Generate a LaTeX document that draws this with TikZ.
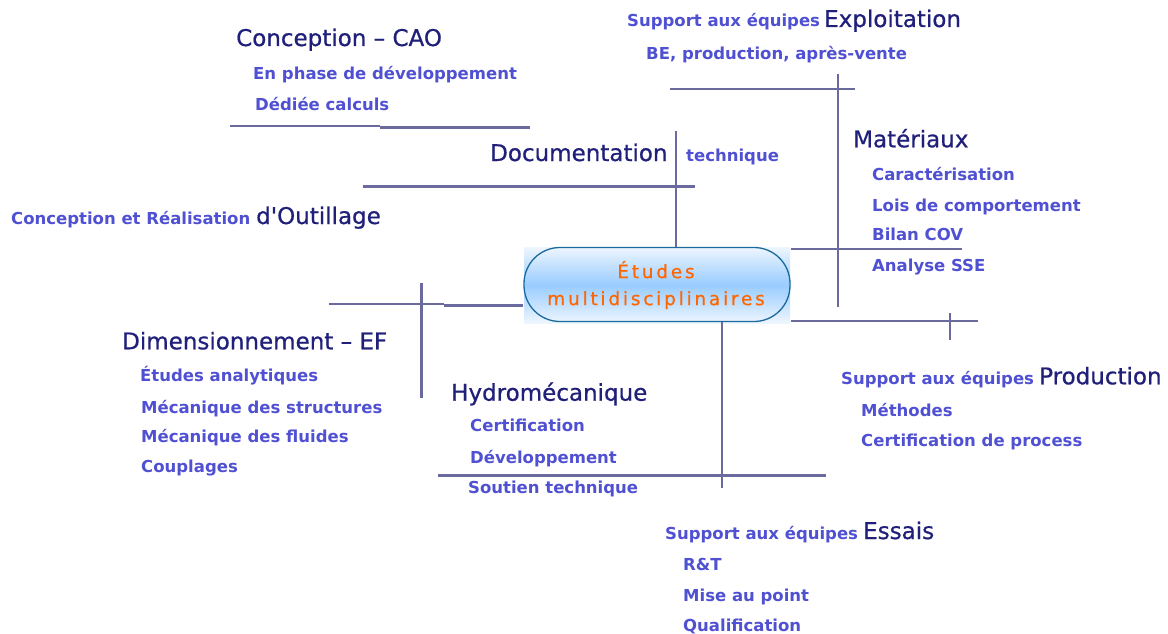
\documentclass[tikz,border=0pt]{standalone}
\usepackage{fontspec}
\setmainfont{DejaVu Sans}
\newfontfamily\headfam[FakeBold=0.7]{DejaVu Sans}
\newfontfamily\centfam[LetterSpace=15,FakeBold=0.6]{DejaVu Sans}
\definecolor{navy}{HTML}{20207A}
\definecolor{subblue}{HTML}{5050D2}
\definecolor{branch}{HTML}{6A6A9E}
\definecolor{rim}{HTML}{1A6A9E}
\definecolor{orng}{HTML}{FF6600}
\definecolor{paleblue}{HTML}{EEF6FE}
\definecolor{midblue}{HTML}{99CCFF}
\tikzset{
  head/.style={anchor=base west, inner sep=0pt, text=navy, font=\headfam\fontsize{23}{26}\selectfont},
  item/.style={anchor=base west, inner sep=0pt, text=subblue, font=\bfseries\fontsize{16.5}{19}\selectfont},
  branchline/.style={draw=branch, line width=2.7pt},
}
\begin{document}
\begin{tikzpicture}[x=1pt,y=-1pt]
\useasboundingbox (0,0) rectangle (1168,634);

% ---- branch lines ----
% Conception - CAO
\coordinate (caoA) at (230,126); \coordinate (caoB) at (380,126);
\coordinate (caoC) at (380,127.5); \coordinate (caoD) at (530,127.5);
\draw[branchline] (caoA) -- (caoB);
\draw[branchline] (caoC) -- (caoD);
% Exploitation / Materiaux
\coordinate (expA) at (670,89); \coordinate (expB) at (855,89);
\coordinate (matT) at (838,74); \coordinate (matB) at (838,307);
\coordinate (matR) at (962,249);
\draw[branchline] (expA) -- (expB);
\draw[branchline] (matT) -- (matB);
% Documentation
\coordinate (docA) at (363,186.5); \coordinate (docB) at (695,186.5);
\coordinate (docT) at (676,131);
\draw[branchline] (docA) -- (docB);
% Outillage / Dimensionnement
\coordinate (dimA) at (329,304); \coordinate (dimB) at (444,304);
\coordinate (dimC) at (444,305.5);
\coordinate (dimT) at (421.5,283); \coordinate (dimU) at (421.5,398);
\draw[branchline] (dimA) -- (dimB);
\draw[branchline] (dimT) -- (dimU);
% Production
\coordinate (proA) at (865,321); \coordinate (proB) at (978,321);
\coordinate (proT) at (950,313); \coordinate (proU) at (950,340);
\draw[branchline] (proA) -- (proB);
\draw[branchline] (proT) -- (proU);
% Hydromecanique / Essais
\coordinate (hydA) at (438,475.5); \coordinate (hydB) at (826,475.5);
\coordinate (essU) at (722,488);
\draw[branchline] (hydA) -- (hydB);

% ---- central node ----
\fill[top color=paleblue, bottom color=paleblue, middle color=midblue] (524,247) rectangle (790,323);
\node[draw=rim, line width=1.3pt, rounded corners=36pt, minimum width=266pt, minimum height=74pt,
      inner sep=0pt] (centre) at (657,284.5) {};
\node[text=orng, align=center, font=\centfam\fontsize{18.5}{27}\selectfont] (centretxt) at (656,285)
  {Études\\multidisciplinaires};

% connectors from the centre
\draw[branchline] (docT) -- (centre.north -| docT);
\draw[branchline] (centre.east |- matR) -- (matR);
\draw[branchline] (dimC) -- (centre.west |- dimC);
\draw[branchline] (centre.east |- proA) -- (proA);
\draw[branchline] (centre.south -| essU) -- (essU);

% ---- texts ----
\node[head] (cao) at (236,46) {Conception – CAO};
\node[item] (cao1) at (253,79.3) {En phase de développement};
\node[item] (cao2) at (255,110.7) {Dédiée calculs};

\node[item] (exps) at (627,27) {Support aux équipes};
\node[head] (exp) at (824,27) {Exploitation};
\node[item] (exp1) at (646,59.3) {BE, production, après-vente};

\node[head] (doc) at (490,161) {Documentation};
\node[item] (doc1) at (686,161) {technique};

\node[head] (mat) at (853,147.3) {Matériaux};
\node[item] (mat1) at (872,180) {Caractérisation};
\node[item] (mat2) at (872,211.7) {Lois de comportement};
\node[item] (mat3) at (872,240.7) {Bilan COV};
\node[item] (mat4) at (872,271.7) {Analyse SSE};

\node[item] (outs) at (11,224) {Conception et Réalisation};
\node[head] (out) at (256,224) {d'Outillage};

\node[head] (dim) at (122,349.3) {Dimensionnement – EF};
\node[item] (dim1) at (140,381) {Études analytiques};
\node[item] (dim2) at (141,413.3) {Mécanique des structures};
\node[item] (dim3) at (141,442.3) {Mécanique des fluides};
\node[item] (dim4) at (141,472.3) {Couplages};

\node[head] (hyd) at (451,400.7) {Hydromécanique};
\node[item] (hyd1) at (470,431.7) {Certification};
\node[item] (hyd2) at (470,463.3) {Développement};
\node[item] (hyd3) at (468,493.3) {Soutien technique};

\node[item] (pros) at (841,384.3) {Support aux équipes};
\node[head] (pro) at (1039,384.3) {Production};
\node[item] (pro1) at (861,416.7) {Méthodes};
\node[item] (pro2) at (861,446.7) {Certification de process};

\node[item] (esss) at (665,539) {Support aux équipes};
\node[head] (ess) at (863,539) {Essais};
\node[item] (ess1) at (683,570.7) {R\&T};
\node[item] (ess2) at (683,601.7) {Mise au point};
\node[item] (ess3) at (683,631) {Qualification};
\end{tikzpicture}
\end{document}
